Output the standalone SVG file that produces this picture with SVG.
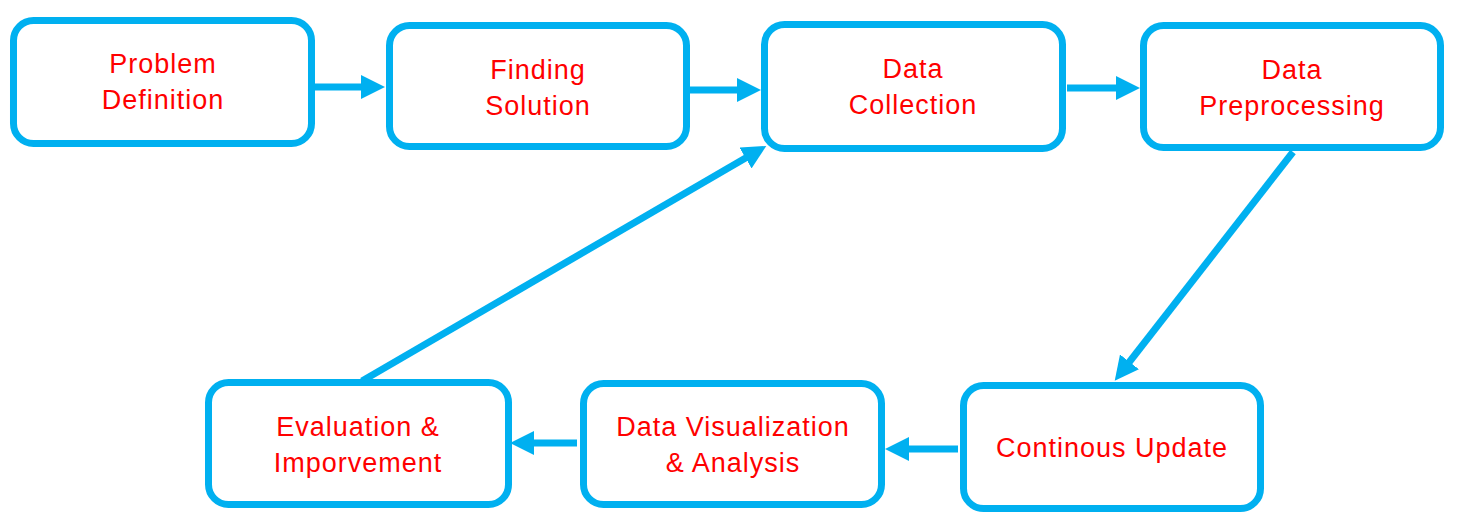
<svg xmlns="http://www.w3.org/2000/svg" width="1464" height="525" viewBox="0 0 1464 525">
<style>
.box{fill:#fff;stroke:#00B0F0;stroke-width:7}
.lbl{font-family:"Liberation Sans",Arial,sans-serif;font-size:27px;letter-spacing:1px;fill:#FF0000;text-anchor:middle}
.con{stroke:#00B0F0;stroke-width:7;fill:none;marker-end:url(#ah)}
</style>
<defs>
<marker id="ah" markerUnits="userSpaceOnUse" markerWidth="24" markerHeight="24" refX="4" refY="12" orient="auto">
<path d="M0,0 L24,12 L0,24 z" fill="#00B0F0"/>
</marker>
</defs>
<rect width="1464" height="525" fill="#fff"/>
<g id="connectors">
<line class="con" x1="315" y1="87" x2="365" y2="87"/>
<line class="con" x1="690" y1="90" x2="741" y2="90"/>
<line class="con" x1="1067" y1="88" x2="1120" y2="88"/>
<line class="con" x1="1293" y1="152" x2="1127" y2="365"/>
<line class="con" x1="958" y1="449" x2="905" y2="449"/>
<line class="con" x1="577" y1="443" x2="530" y2="443"/>
<line class="con" x1="362" y1="381" x2="749" y2="156"/>
</g>
<g id="n1"><rect class="box" x="13.5" y="20.5" width="298" height="123" rx="20"/><text class="lbl" x="163" y="73">Problem</text><text class="lbl" x="163" y="109">Definition</text></g>
<g id="n2"><rect class="box" x="389.5" y="25.5" width="297" height="121" rx="20"/><text class="lbl" x="538" y="79">Finding</text><text class="lbl" x="538" y="115">Solution</text></g>
<g id="n3"><rect class="box" x="764.5" y="24.5" width="298" height="124" rx="20"/><text class="lbl" x="913" y="78">Data</text><text class="lbl" x="913" y="114">Collection</text></g>
<g id="n4"><rect class="box" x="1143.5" y="25.5" width="297" height="122" rx="20"/><text class="lbl" x="1292" y="79">Data</text><text class="lbl" x="1292" y="115">Preprocessing</text></g>
<g id="n5"><rect class="box" x="208.5" y="382.5" width="300" height="122" rx="20"/><text class="lbl" x="358" y="436">Evaluation &amp;</text><text class="lbl" x="358" y="472">Imporvement</text></g>
<g id="n6"><rect class="box" x="583.5" y="383.5" width="298" height="121" rx="20"/><text class="lbl" x="733" y="436">Data Visualization</text><text class="lbl" x="733" y="472">&amp; Analysis</text></g>
<g id="n7"><rect class="box" x="963.5" y="385.5" width="297" height="123" rx="20"/><text class="lbl" x="1112" y="457">Continous Update</text></g>
</svg>
